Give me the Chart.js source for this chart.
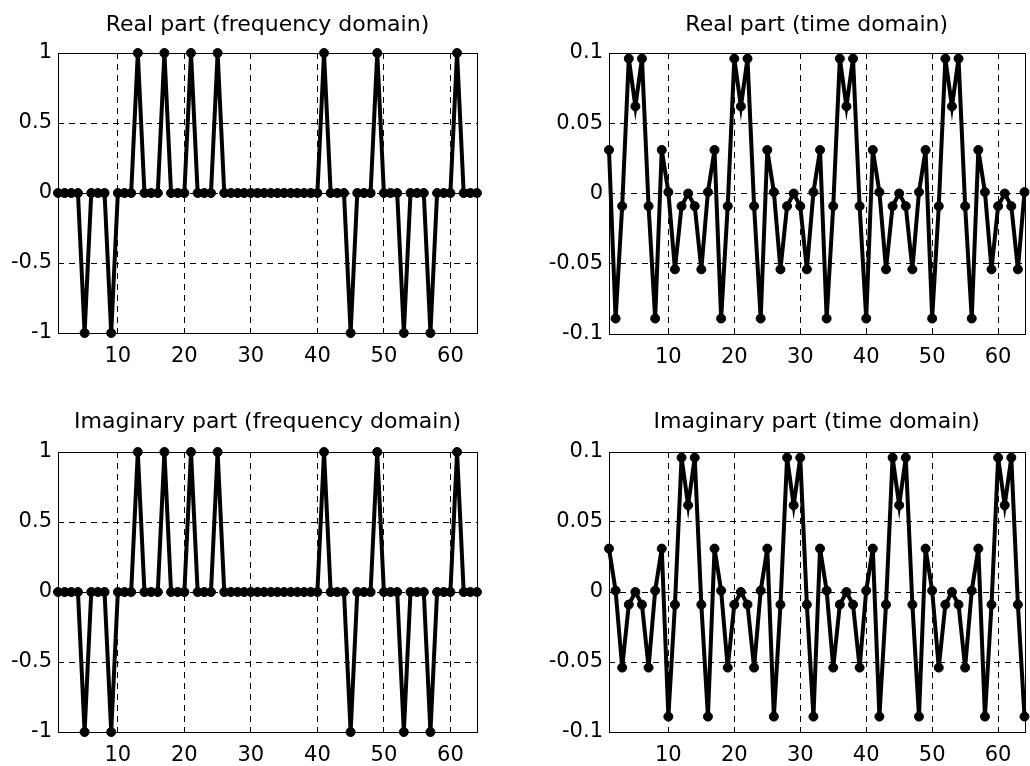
<!DOCTYPE html>
<html>
<head>
<meta charset="utf-8">
<script src="https://cdn.jsdelivr.net/npm/chart.js@4.4.1/dist/chart.umd.min.js"></script>
<style>
html,body{margin:0;padding:0;background:#fff;overflow:hidden;width:1030px;height:766px;position:relative}
canvas{position:absolute;display:block}
</style>
</head>
<body>
<canvas id="c1" width="515" height="383" style="left:0px;top:0px"></canvas>
<canvas id="c2" width="515" height="383" style="left:515px;top:0px"></canvas>
<canvas id="c3" width="515" height="383" style="left:0px;top:383px"></canvas>
<canvas id="c4" width="515" height="383" style="left:515px;top:383px"></canvas>
<script>
// ---------- data ----------
const sampleIndex = [1,2,3,4,5,6,7,8,9,10,11,12,13,14,15,16,17,18,19,20,21,22,23,24,25,26,27,28,29,30,31,32,
  33,34,35,36,37,38,39,40,41,42,43,44,45,46,47,48,49,50,51,52,53,54,55,56,57,58,59,60,61,62,63,64];

const freqReal = [0,0,0,0,-1,0,0,0,-1,0,0,0,1,0,0,0,1,0,0,0,1,0,0,0,1,0,0,0,0,0,0,0,
  0,0,0,0,0,0,0,0,1,0,0,0,-1,0,0,0,1,0,0,0,-1,0,0,0,-1,0,0,0,1,0,0,0];

const freqImag = [0,0,0,0,-1,0,0,0,-1,0,0,0,1,0,0,0,1,0,0,0,1,0,0,0,1,0,0,0,0,0,0,0,
  0,0,0,0,0,0,0,0,1,0,0,0,-1,0,0,0,1,0,0,0,-1,0,0,0,-1,0,0,0,1,0,0,0];

const timeReal = [
  0.031,-0.089,-0.009,0.096,0.062,0.096,-0.009,-0.089,0.031,0.001,-0.054,-0.009,0,-0.009,-0.054,0.001,
  0.031,-0.089,-0.009,0.096,0.062,0.096,-0.009,-0.089,0.031,0.001,-0.054,-0.009,0,-0.009,-0.054,0.001,
  0.031,-0.089,-0.009,0.096,0.062,0.096,-0.009,-0.089,0.031,0.001,-0.054,-0.009,0,-0.009,-0.054,0.001,
  0.031,-0.089,-0.009,0.096,0.062,0.096,-0.009,-0.089,0.031,0.001,-0.054,-0.009,0,-0.009,-0.054,0.001];

const timeImag = [
  0.031,0.001,-0.054,-0.009,0,-0.009,-0.054,0.001,0.031,-0.089,-0.009,0.096,0.062,0.096,-0.009,-0.089,
  0.031,0.001,-0.054,-0.009,0,-0.009,-0.054,0.001,0.031,-0.089,-0.009,0.096,0.062,0.096,-0.009,-0.089,
  0.031,0.001,-0.054,-0.009,0,-0.009,-0.054,0.001,0.031,-0.089,-0.009,0.096,0.062,0.096,-0.009,-0.089,
  0.031,0.001,-0.054,-0.009,0,-0.009,-0.054,0.001,0.031,-0.089,-0.009,0.096,0.062,0.096,-0.009,-0.089];

const panelTitles = ['Real part (frequency domain)','Real part (time domain)',
                     'Imaginary part (frequency domain)','Imaginary part (time domain)'];

const xTicks = [10,20,30,40,50,60];
const xTickLabels = ['10','20','30','40','50','60'];
const freqYTicks = [-1,-0.5,0,0.5,1];
const freqYTickLabels = ['-1','-0.5','0','0.5','1'];
const timeYTicks = [-0.1,-0.05,0,0.05,0.1];
const timeYTickLabels = ['-0.1','-0.05','0','0.05','0.1'];

// ---------- drawing ----------
const FONT = 'DejaVu Sans';

const boxPlugin = {
  id: 'matlabBox',
  beforeDatasetsDraw(chart) {
    const {ctx, chartArea: a} = chart;
    ctx.save();
    ctx.setLineDash([]);
    ctx.strokeStyle = '#000';
    ctx.lineWidth = 1;
    const l = Math.round(a.left) + 0.5, t = Math.round(a.top) + 0.5;
    const r = Math.round(a.right) + 0.5, b = Math.round(a.bottom) + 0.5;
    ctx.strokeRect(l, t, r - l, b - t);
    ctx.restore();
  }
};

function makeChart(id, title, values, yTicks, yLabels, geo) {
  const pts = values.map((v, i) => ({x: sampleIndex[i], y: v}));
  return new Chart(document.getElementById(id), {
    type: 'line',
    data: {
      datasets: [{
        data: pts,
        borderColor: '#000',
        backgroundColor: '#000',
        borderWidth: 4,
        pointRadius: 4.5,
        pointBorderWidth: 1,
        pointBackgroundColor: '#000',
        pointBorderColor: '#000',
        tension: 0,
        clip: false
      }]
    },
    options: {
      responsive: false,
      animation: false,
      devicePixelRatio: 1,
      layout: {padding: {left: 0, top: 0, right: geo.padRight, bottom: 0}},
      plugins: {
        legend: {display: false},
        tooltip: {enabled: false},
        title: {
          display: true,
          text: title,
          fullSize: false,
          color: '#000',
          font: {family: FONT, size: 22, weight: 'normal'},
          padding: {top: geo.titleTop, bottom: geo.titleBottom}
        }
      },
      scales: {
        x: {
          type: 'linear',
          min: 1,
          max: 64,
          afterBuildTicks: s => { s.ticks = xTicks.map(v => ({value: v})); },
          afterFit: s => { s.height = geo.xAxisH; },
          ticks: {
            callback: (v, i) => xTickLabels[i],
            color: '#000',
            font: {family: FONT, size: 21},
            padding: 11,
            maxRotation: 0,
            autoSkip: false
          },
          grid: {color: '#000', lineWidth: 1, drawTicks: false},
          border: {display: false, dash: [6, 5]}
        },
        y: {
          type: 'linear',
          min: yTicks[0],
          max: yTicks[yTicks.length - 1],
          afterBuildTicks: s => { s.ticks = yTicks.map(v => ({value: v})); },
          afterFit: s => { s.width = geo.yAxisW; },
          ticks: {
            callback: (v, i) => yLabels[i],
            color: '#000',
            font: {family: FONT, size: 21},
            padding: 6,
            autoSkip: false
          },
          grid: {color: '#000', lineWidth: 1, drawTicks: false},
          border: {display: false, dash: [6, 5]}
        }
      }
    },
    plugins: [boxPlugin]
  });
}

const geoTL = {padRight: 38, yAxisW: 58, xAxisH: 50, titleTop: 11.6, titleBottom: 15};
const geoTR = {padRight: 3,  yAxisW: 94, xAxisH: 49, titleTop: 11.6, titleBottom: 15};
const geoBL = {padRight: 38, yAxisW: 58, xAxisH: 34, titleTop: 26.1, titleBottom: 16.5};
const geoBR = {padRight: 3,  yAxisW: 94, xAxisH: 34, titleTop: 26.1, titleBottom: 16.5};

makeChart('c1', panelTitles[0], freqReal, freqYTicks, freqYTickLabels, geoTL);
makeChart('c2', panelTitles[1], timeReal, timeYTicks, timeYTickLabels, geoTR);
makeChart('c3', panelTitles[2], freqImag, freqYTicks, freqYTickLabels, geoBL);
makeChart('c4', panelTitles[3], timeImag, timeYTicks, timeYTickLabels, geoBR);
</script>
</body>
</html>
